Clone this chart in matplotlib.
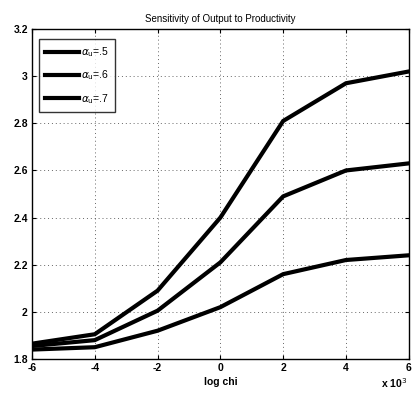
import matplotlib
matplotlib.use("Agg")
import matplotlib.pyplot as plt

log_chi = [-6, -4, -2, 0, 2, 4, 6]
out_a5 = [1.865, 1.905, 2.09, 2.40, 2.81, 2.97, 3.02]
out_a6 = [1.855, 1.88, 2.005, 2.21, 2.49, 2.60, 2.63]
out_a7 = [1.84, 1.85, 1.92, 2.02, 2.16, 2.22, 2.24]
labels = [r"$\alpha_{\rm u}$=.5", r"$\alpha_{\rm u}$=.6", r"$\alpha_{\rm u}$=.7"]
xticks = [-6, -4, -2, 0, 2, 4, 6]
yticks = [1.8, 2.0, 2.2, 2.4, 2.6, 2.8, 3.0, 3.2]
ytick_labels = ["1.8", "2", "2.2", "2.4", "2.6", "2.8", "3", "3.2"]

plt.rcParams["font.family"] = ["Liberation Sans", "DejaVu Sans"]
plt.rcParams["mathtext.fontset"] = "dejavusans"

fig = plt.figure(figsize=(4.15, 3.98), dpi=100)
ax = fig.add_axes([0.077, 0.098, 0.908, 0.829])

for y, lab in zip([out_a5, out_a6, out_a7], labels):
    ax.plot(log_chi, y, color="black", lw=3.0, label=lab, solid_joinstyle="miter")

ax.set_xlim(-6, 6)
ax.set_ylim(1.8, 3.2)
ax.set_xticks(xticks)
ax.set_xticklabels([str(t) for t in xticks], fontsize=7.5, fontweight="bold")
ax.set_yticks(yticks)
ax.set_yticklabels(ytick_labels, fontsize=7.5, fontweight="bold")
ax.tick_params(direction="in", length=3, width=0.8, top=True, right=True, pad=3)
ax.grid(True, linestyle=(0, (1, 3)), color="black", lw=0.7, alpha=0.6)
for s in ax.spines.values():
    s.set_linewidth(1.0)

ax.set_title("Sensitivity of Output to Productivity", fontsize=7, pad=5)
ax.set_xlabel("log chi", fontsize=7.5, fontweight="bold", labelpad=3)
fig.text(0.95, 0.025, r"x 10$^{3}$", fontsize=7.5, fontweight="bold", ha="center")

leg = ax.legend(loc="upper left", fontsize=7.5, frameon=True, fancybox=False,
                edgecolor="black", handlelength=3.2, handletextpad=0.2,
                labelspacing=0.9, borderpad=0.6, bbox_to_anchor=(0.005, 0.985))
leg.get_frame().set_linewidth(1.0)

fig.savefig("out.png", dpi=100)
